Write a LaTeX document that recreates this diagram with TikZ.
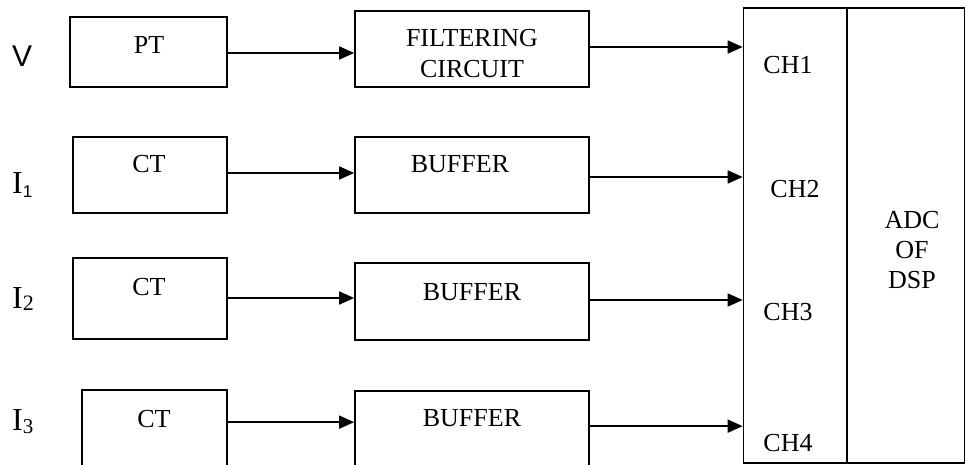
\documentclass[tikz,border=0pt]{standalone}
\usepackage{fontspec}
\setmainfont{Liberation Serif}
\newfontfamily\arialf{Liberation Sans}
\usetikzlibrary{arrows.meta,calc}
\begin{document}
\begin{tikzpicture}[x=1pt,y=-1pt,
  blk/.style={draw,line width=1.7pt,inner sep=0pt},
  txt/.style={inner sep=0pt,anchor=base,font=\fontsize{26}{30}\selectfont},
  lbl/.style={inner sep=0pt,anchor=base west,font=\fontsize{32}{36}\selectfont},
  arr/.style={line width=1.7pt,-{Triangle[length=15pt,width=13pt]}}]
\useasboundingbox (0,0) rectangle (966,465);
\clip (0,0) rectangle (966,465);
% boxes
\node[blk,minimum width=157pt,minimum height=70pt] (pt) at (148.5,52) {};
\node[blk,minimum width=154pt,minimum height=76pt] (ct1) at (150,175) {};
\node[blk,minimum width=154pt,minimum height=81pt] (ct2) at (150,298.5) {};
\node[blk,minimum width=145pt,minimum height=90pt] (ct3) at (154.5,435) {};
\node[blk,minimum width=234pt,minimum height=76pt] (filt) at (472,49) {};
\node[blk,minimum width=234pt,minimum height=76pt] (buf1) at (472,175) {};
\node[blk,minimum width=234pt,minimum height=77pt] (buf2) at (472,301.5) {};
\node[blk,minimum width=234pt,minimum height=89pt] (buf3) at (472,435.5) {};
\node[blk,minimum width=221pt,minimum height=455pt] (adc) at (854,235.5) {};
\draw[line width=1.7pt] ($(adc.north west)+(104,0)$) -- ($(adc.south west)+(104,0)$);
% texts
\node[txt] (tpt) at (149,54) {PT};
\node[txt] (tct1) at (149,173) {CT};
\node[txt] (tct2) at (149,295) {CT};
\node[txt] (tct3) at (154,427) {CT};
\node[txt] (tf1) at (472,47) {FILTERING};
\node[txt] (tf2) at (472,78) {CIRCUIT};
\node[txt] (tb1) at (460,173) {BUFFER};
\node[txt] (tb2) at (472,300.5) {BUFFER};
\node[txt] (tb3) at (472,426) {BUFFER};
\node[txt] (ch1) at (788,74) {CH1};
\node[txt] (ch2) at (795,198) {CH2};
\node[txt] (ch3) at (788,320) {CH3};
\node[txt] (ch4) at (788,451.5) {CH4};
\node[txt] (a1) at (912,228) {ADC};
\node[txt] (a2) at (912,258) {OF};
\node[txt] (a3) at (912,288) {DSP};
% input labels
\node[inner sep=0pt,anchor=base west,font=\arialf\fontsize{30}{34}\selectfont] (lv) at (12,67) {V};
\node[lbl] (li1) at (12,194) {I\raisebox{-4pt}{\arialf\fontsize{17}{17}\selectfont 1}};
\node[lbl] (li2) at (12,308) {I\raisebox{-2pt}{\fontsize{22}{22}\selectfont 2}};
\node[lbl] (li3) at (12,430) {I\raisebox{-3pt}{\fontsize{21}{21}\selectfont 3}};
% connectors
\draw[arr] ([yshift=-1pt]pt.east) -- ([yshift=-1pt]pt.east -| filt.west);
\draw[arr] ([yshift=2pt]filt.east) -- ([yshift=2pt]filt.east -| adc.west);
\draw[arr] ([yshift=2pt]ct1.east) -- ([yshift=2pt]ct1.east -| buf1.west);
\draw[arr] ([yshift=-2pt]buf1.east) -- ([yshift=-2pt]buf1.east -| adc.west);
\draw[arr] ([yshift=0.5pt]ct2.east) -- ([yshift=0.5pt]ct2.east -| buf2.west);
\draw[arr] ([yshift=1.5pt]buf2.east) -- ([yshift=1.5pt]buf2.east -| adc.west);
\draw[arr] ([yshift=-33pt]ct3.north east) -- ([yshift=-33pt]ct3.north east -| buf3.west);
\draw[arr] ([yshift=-36pt]buf3.north east) -- ([yshift=-36pt]buf3.north east -| adc.west);
\end{tikzpicture}
\end{document}
